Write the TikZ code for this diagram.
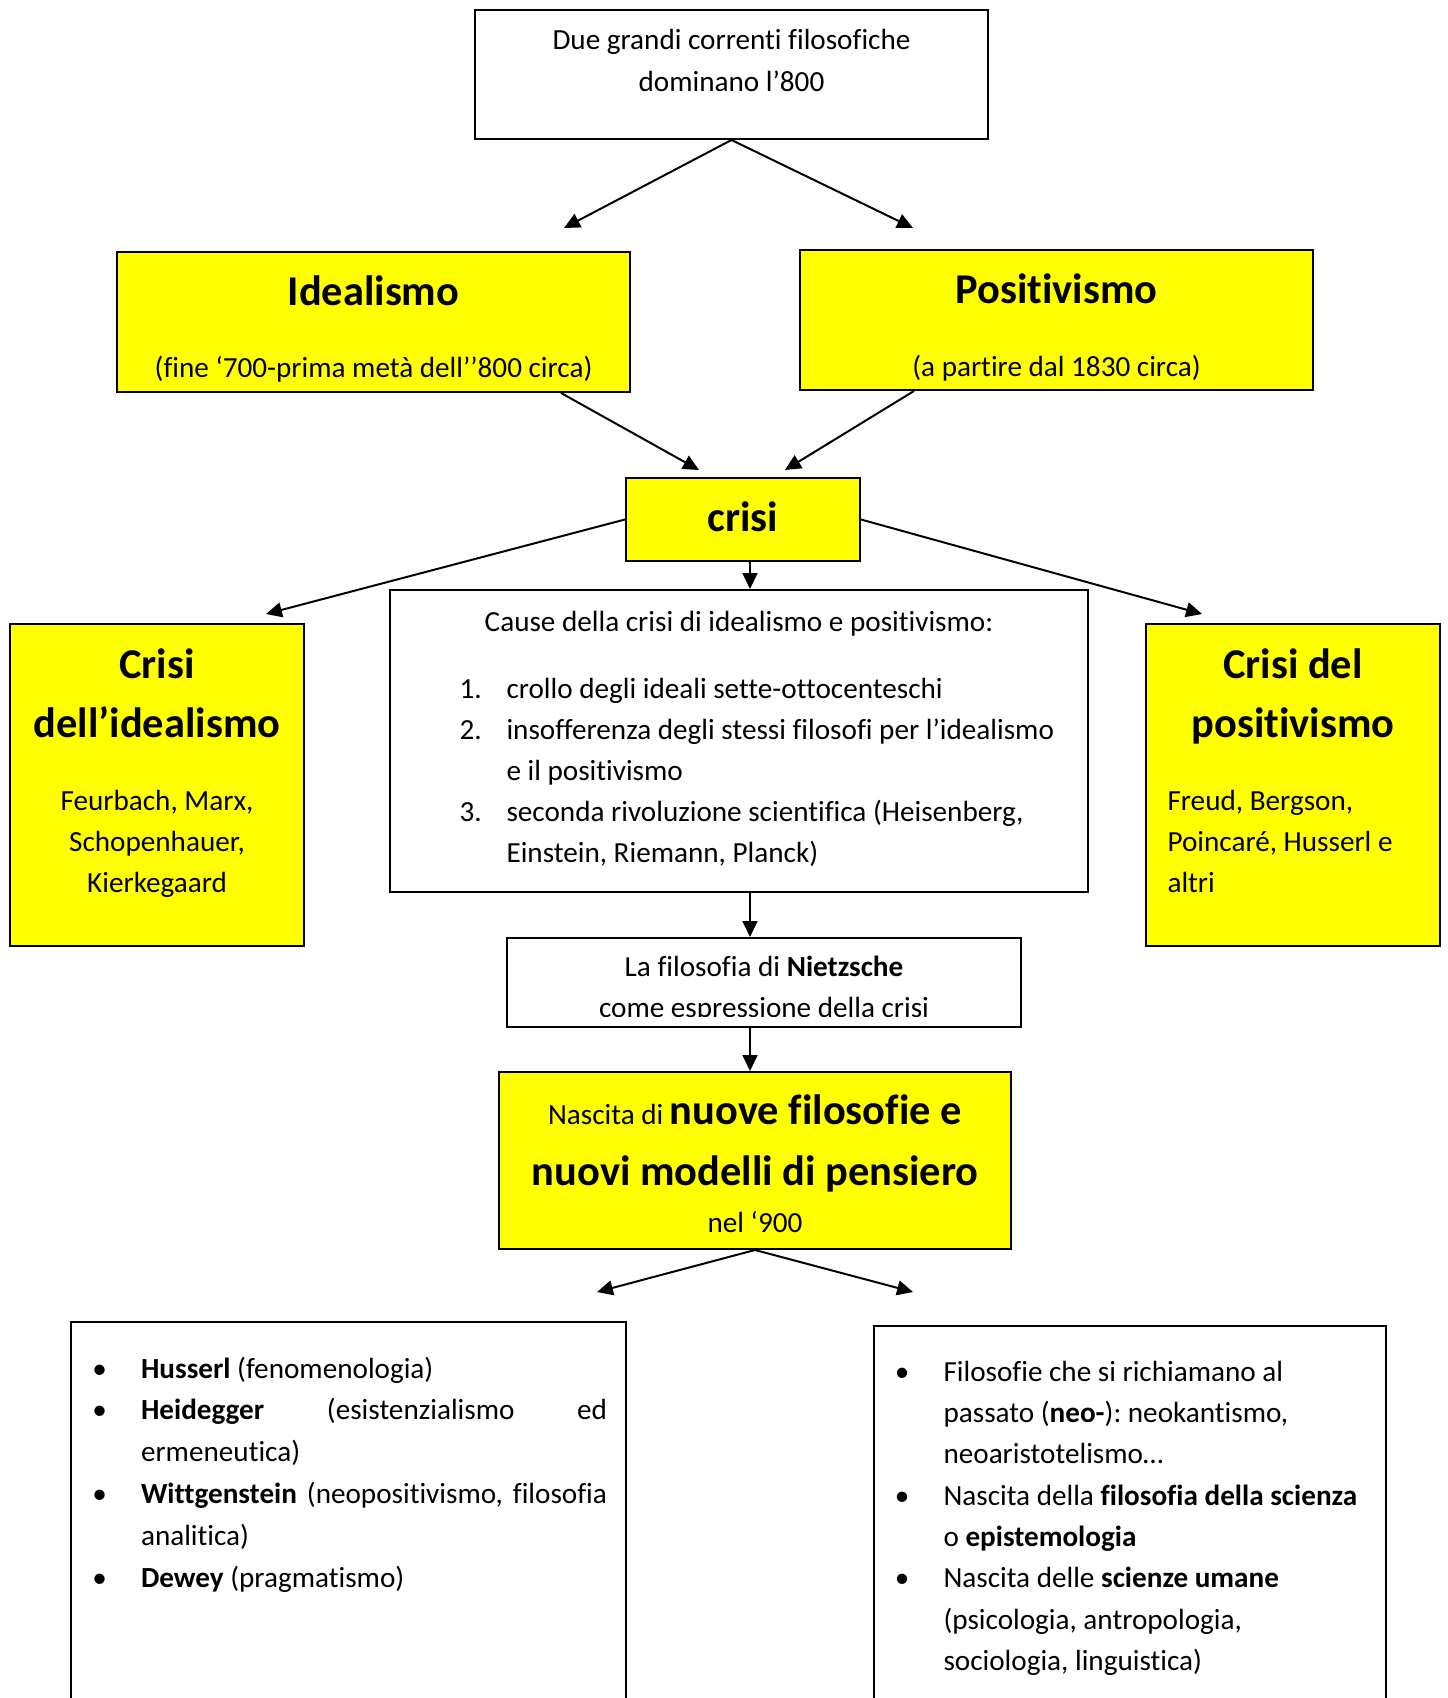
\documentclass[tikz,border=0pt]{standalone}
\usepackage{fontspec}
\setmainfont{Carlito}[Ligatures={TeX,NoCommon}]
\usepackage{xcolor}
\usetikzlibrary{arrows.meta,fit}

\definecolor{boxyellow}{RGB}{255,255,0}
\newcommand{\px}{0.377pt}
\newcommand{\headfont}{\fontsize{16}{22.3}\selectfont\bfseries}
\newcommand{\nitem}[2]{\noindent\llap{\makebox[17.7pt][l]{#1}}#2\par}
\newcommand{\bitem}[1]{\noindent\llap{\makebox[31.3pt][c]{\textbullet}}#1\par}
\hyphenpenalty=10000
\exhyphenpenalty=10000
\hbadness=10000
\frenchspacing

\begin{document}
\begin{tikzpicture}[
  x=0.377pt, y=-0.377pt,
  every node/.style={font=\fontsize{11}{15.5}\selectfont},
  box/.style={draw, line width=0.75pt, inner sep=0pt},
  ybox/.style={box, fill=boxyellow},
  txt/.style={inner sep=0pt, anchor=base, align=flush center},
  head/.style={txt, font=\headfont},
  arr/.style={-{Triangle[length=6pt, width=5.6pt]}, line width=0.75pt}
]
  \useasboundingbox (0,0) rectangle (1448,1698);

  \node[box,  fit={(475,10) (988,139)}]     (top)    {};
  \node[ybox, fit={(117,252) (630,392)}]    (ideal)  {};
  \node[ybox, fit={(800,250) (1313,390)}]   (posit)  {};
  \node[ybox, fit={(626,478) (860,561)}]    (crisi)  {};
  \node[box,  fit={(390,590) (1088,892)}]   (cause)  {};
  \node[ybox, fit={(10,624) (304,946)}]     (cideal) {};
  \node[ybox, fit={(1146,624) (1440,946)}]  (cposit) {};
  \node[box,  fit={(507,938) (1021,1027)}]  (nietz)  {};
  \node[ybox, fit={(499,1072) (1011,1249)}] (nasc)   {};
  \begin{scope}
    \clip (0,0) rectangle (1448,1698);
    \node[box, fit={(71,1322) (626,1730)}]   (left)  {};
    \node[box, fit={(874,1326) (1386,1730)}] (right) {};
  \end{scope}

  \coordinate (axis)      at (750,0);
  \coordinate (tipIdeal)  at (564,228);
  \coordinate (tipPosit)  at (913,228);
  \coordinate (tipCrisiL) at (699,470);
  \coordinate (tipCrisiR) at (785,470);
  \coordinate (tipCIdeal) at (266,614);
  \coordinate (tipCPosit) at (1202,614);
  \coordinate (tipLeft)   at (597,1292);
  \coordinate (tipRight)  at (913,1292);

  \draw[arr] (top.south) -- (tipIdeal);
  \draw[arr] (top.south) -- (tipPosit);
  \draw[arr] ([shift={(187.5,0)}]ideal.south) -- (tipCrisiL);
  \draw[arr] ([shift={(-142.5,0)}]posit.south) -- (tipCrisiR);
  \draw[arr] (crisi.west) -- (tipCIdeal);
  \draw[arr] (crisi.east) -- (tipCPosit);
  \draw[arr] (crisi.south -| axis) -- (cause.north -| axis);
  \draw[arr] (cause.south -| axis) -- (nietz.north -| axis);
  \draw[arr] (nietz.south -| axis) -- (nasc.north -| axis);
  \draw[arr] (nasc.south) -- (tipLeft);
  \draw[arr] (nasc.south) -- (tipRight);

  \node[txt, text width=450*\px] (topT) at (731.5,50)
    {Due grandi correnti filosofiche\\dominano l’800};
  \node[head] (idealT) at (373.5,306) {Idealismo};
  \node[txt]  (idealS) at (373.5,378) {(fine ‘700-prima metà dell’\kern0pt’800 circa)};
  \node[head] (positT) at (1056.5,304) {Positivismo};
  \node[txt]  (positS) at (1056.5,377) {(a partire dal 1830 circa)};
  \node[head] (crisiT) at (743,531) {crisi};

  \node[txt] (causeT) at (739,631) {Cause della crisi di idealismo e positivismo:};
  \node[txt, anchor=base west, align=flush left, text width=580*\px] (causeL) at (506,698) {%
    \nitem{1.}{crollo degli ideali sette-ottocenteschi}
    \nitem{2.}{insofferenza degli stessi filosofi per l’idealismo\\e il positivismo}
    \nitem{3.}{seconda rivoluzione scientifica (Heisenberg,\\Einstein, Riemann, Planck)}};

  \node[head, text width=280*\px] (cidealT) at (157,678) {Crisi\\dell’idealismo};
  \node[txt, text width=280*\px]  (cidealS) at (157,810)
    {Feurbach, Marx,\\Schopenhauer,\\Kierkegaard};
  \node[head, text width=280*\px] (cpositT) at (1293,678) {Crisi del\\positivismo};
  \node[txt, anchor=base west, align=flush left, text width=265*\px] (cpositS) at (1167,810)
    {Freud, Bergson,\\Poincaré, Husserl e\\altri};

  \begin{scope}
    \clip (507,938) rectangle (1021,1016);
    \node[txt, text width=490*\px, font=\fontsize{11}{15.8}\selectfont] (nietzT) at (764,976)
      {La filosofia di \textbf{Nietzsche}\\come espressione della crisi};
  \end{scope}

  \node[txt, text width=505*\px, font=\fontsize{11}{23.2}\selectfont] (nascT) at (755,1124)
    {Nascita di {\headfont nuove filosofie e}\\{\headfont nuovi modelli di pensiero}\\[-5.5pt]nel ‘900};

  \node[txt, anchor=base west, align=justify, text width=466*\px,
        font=\fontsize{11}{15.76}\selectfont] (leftL) at (140.5,1378) {%
    \bitem{\textbf{Husserl} (fenomenologia)}
    \bitem{\textbf{Heidegger} (esistenzialismo ed\linebreak ermeneutica)}
    \bitem{\textbf{Wittgenstein} (neopositivismo, filosofia\linebreak analitica)}
    \bitem{\textbf{Dewey} (pragmatismo)}};
  \node[txt, anchor=base west, align=flush left, text width=430*\px,
        font=\fontsize{11}{15.6}\selectfont] (rightL) at (943,1381) {%
    \bitem{Filosofie che si richiamano al\\passato (\textbf{neo-}): neokantismo,\\neoaristotelismo…}
    \bitem{Nascita della \textbf{filosofia della scienza}\\o \textbf{epistemologia}}
    \bitem{Nascita delle \textbf{scienze umane}\\(psicologia, antropologia,\\sociologia, linguistica)}};
\end{tikzpicture}
\end{document}
